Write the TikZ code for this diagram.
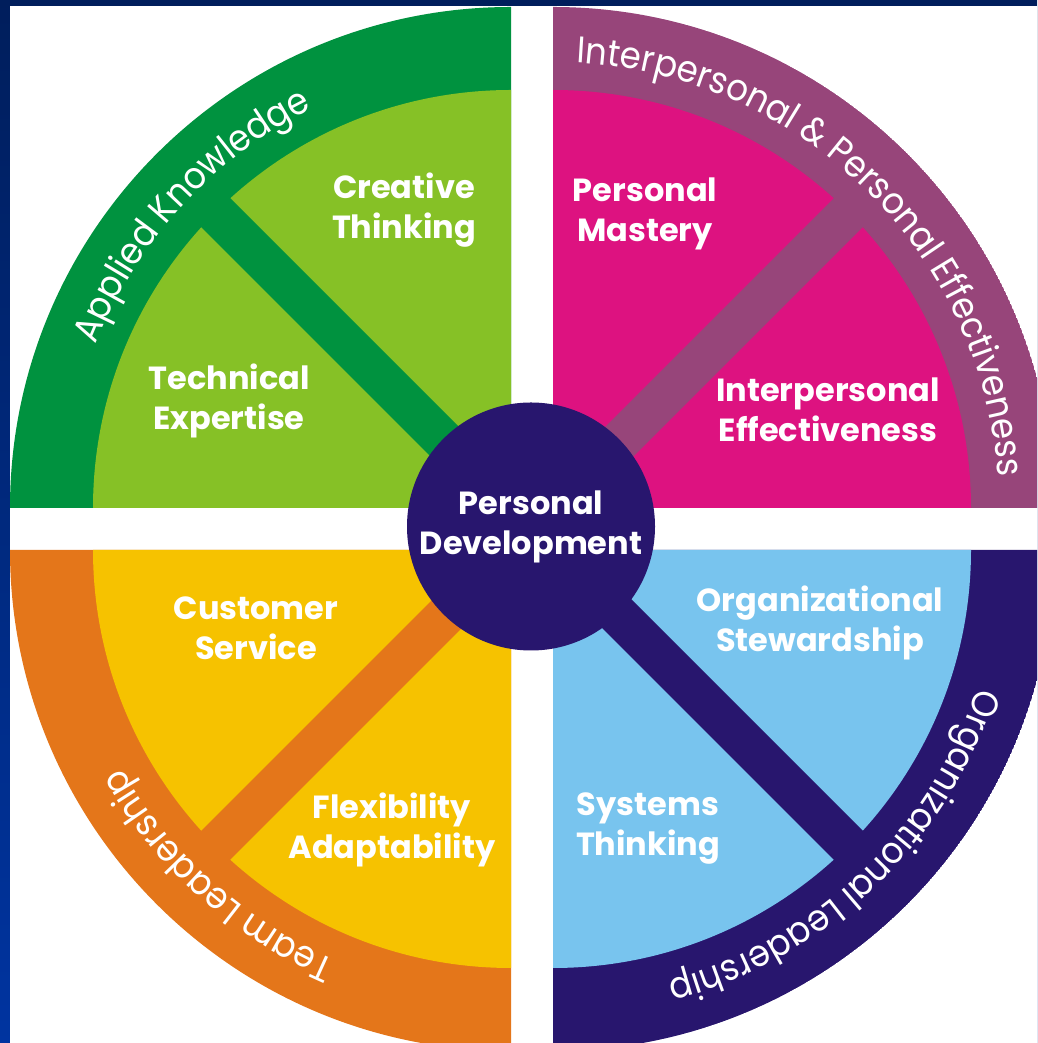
\documentclass[tikz,border=0pt]{standalone}
\usepackage{fontspec}
\setmainfont{Poppins}
\usetikzlibrary{decorations.text}
\definecolor{navytop}{RGB}{0,30,92}
\definecolor{navybot}{RGB}{0,52,160}
\definecolor{dkgreen}{RGB}{0,146,63}
\definecolor{ltgreen}{RGB}{134,193,38}
\definecolor{plum}{RGB}{151,69,122}
\definecolor{pinkq}{RGB}{221,18,128}
\definecolor{orng}{RGB}{228,118,26}
\definecolor{yllw}{RGB}{246,194,0}
\definecolor{ltblue}{RGB}{120,196,238}
\definecolor{indigo}{RGB}{40,22,110}
\begin{document}
\begin{tikzpicture}[x=1pt,y=1pt,
  lbl/.style={text=white, align=center, font=\fontsize{32}{40}\selectfont\bfseries, inner sep=0pt},
  bandtext/.style={decorate, decoration={text along path, text align=center, text color=white,
     text={|\fontsize{37}{40}\selectfont\addfontfeature{FakeStretch=0.92}|#1}}},
  bar/.style={line width=41pt}
]
\useasboundingbox (0,0) rectangle (1037,1043);
\shade[top color=navytop, bottom color=navybot] (0,0) rectangle (1037,1043);
\fill[white] (10,0) rectangle (1037,1037);

\coordinate (tl) at (511,535);
\coordinate (tr) at (553,535);
\coordinate (bl) at (511,493);
\coordinate (br) at (553,493);

\begin{scope}
  \clip (10,0) rectangle (1037,1037);
  % top-left
  \begin{scope}
    \clip (tl) -- ++(180:501) arc[start angle=180,end angle=90,radius=501] -- cycle;
    \fill[dkgreen] (tl) circle[radius=501];
    \fill[ltgreen] (tl) circle[radius=418];
    \draw[dkgreen, bar] (tl) -- ++(135:440);
  \end{scope}
  % top-right
  \begin{scope}
    \clip (tr) -- ++(90:501) arc[start angle=90,end angle=0,radius=501] -- cycle;
    \fill[plum] (tr) circle[radius=501];
    \fill[pinkq] (tr) circle[radius=418];
    \draw[plum, bar] (tr) -- ++(45:440);
  \end{scope}
  % bottom-left
  \begin{scope}
    \clip (bl) -- ++(180:501) arc[start angle=180,end angle=270,radius=501] -- cycle;
    \fill[orng] (bl) circle[radius=501];
    \fill[yllw] (bl) circle[radius=418];
    \draw[orng, bar] (bl) -- ++(225:440);
  \end{scope}
  % bottom-right
  \begin{scope}
    \clip (br) -- ++(0:501) arc[start angle=0,end angle=-90,radius=501] -- cycle;
    \fill[indigo] (br) circle[radius=501];
    \fill[ltblue] (br) circle[radius=418];
    \draw[indigo, bar] (br) -- ++(-45:440);
  \end{scope}

  \path[bandtext={Applied Knowledge}] (tl) ++(177.5:446) arc[start angle=177.5,end angle=97.5,radius=446];
  \path[bandtext={Interpersonal {\&} Personal Effectiveness}] (tr) ++(95.5:446) arc[start angle=95.5,end angle=-4.5,radius=446];
  \path[bandtext={Team Leadership}] (bl) ++(268:446) arc[start angle=268,end angle=188,radius=446];
  \path[bandtext={Organizational Leadership}] (br) ++(-6.5:446) arc[start angle=-6.5,end angle=-86.5,radius=446];
\end{scope}

\node[circle, fill=indigo, minimum size=248pt, inner sep=0pt, text=white, align=center,
      font=\fontsize{32}{40}\selectfont\bfseries] (pd) at (531,516.5) {Personal\\Development};

\node[lbl] (ct) at (404,833) {Creative\\Thinking};
\node[lbl] (te) at (229,642) {Technical\\Expertise};
\node[lbl] (pm) at (645,829) {Personal\\Mastery};
\node[lbl] (ie) at (828,633) {Interpersonal\\Effectiveness};
\node[lbl] (cs) at (256,415) {Customer\\Service};
\node[lbl] (fa) at (392,213) {Flexibility\\Adaptability};
\node[lbl] (os) at (820,420) {Organizational\\Stewardship};
\node[lbl] (st) at (648,214) {Systems\\Thinking};
\end{tikzpicture}
\end{document}
